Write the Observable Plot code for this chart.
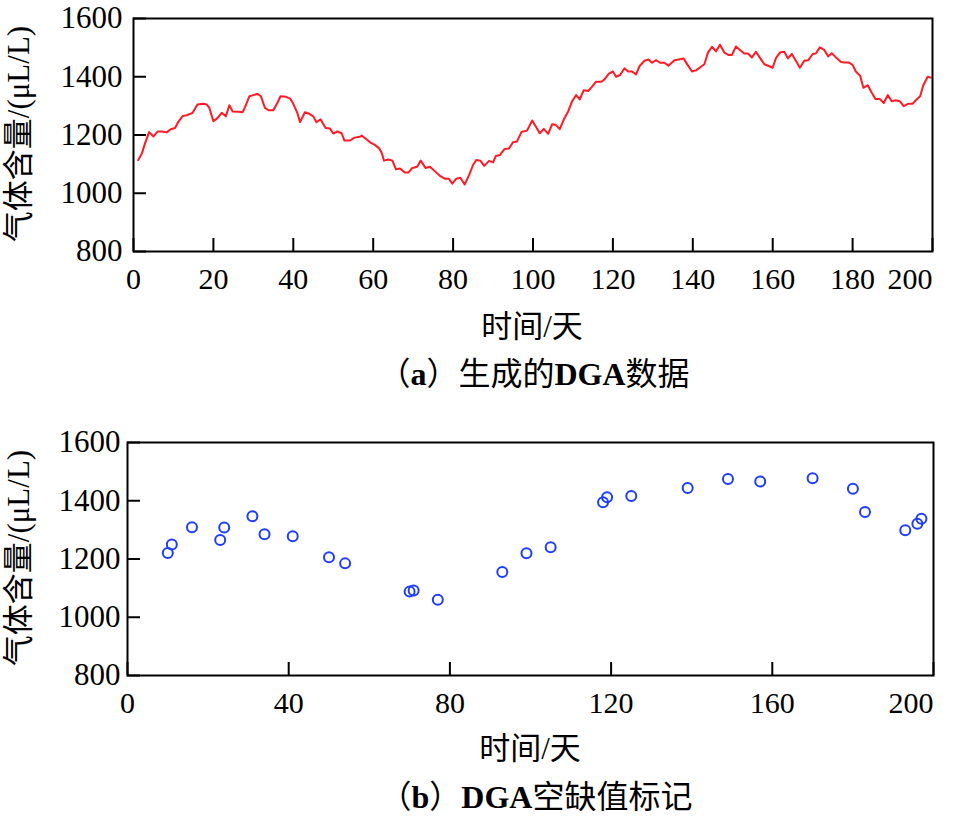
<!DOCTYPE html>
<html>
<head>
<meta charset="utf-8">
<script src="https://cdn.jsdelivr.net/npm/d3@7"></script>
<script src="https://cdn.jsdelivr.net/npm/@observablehq/plot@0.6"></script>
<style>
  html, body { margin: 0; padding: 0; background: #fff; }
  #root { position: relative; width: 959px; height: 816px; overflow: hidden;
          font-family: "Liberation Serif", "Times New Roman", "Noto Sans CJK SC", serif; color: #000; }
  .chart { position: absolute; left: 0; }
  .lbl { position: absolute; white-space: nowrap; line-height: 1; font-size: 31px;
         transform: translate(-50%, -50%); }
  .cap { font-size: 32px; }
  .ylbl { transform: translate(-50%, -50%) rotate(-90deg); }
  .b { font-weight: bold; }
</style>
</head>
<body>
<div id="root">
  <div id="chartA" class="chart" style="top:0px"></div>
  <div id="chartB" class="chart" style="top:420px"></div>
  <div class="lbl ylbl" style="left:18px; top:134px">气体含量/(μL/L)</div>
  <div class="lbl" style="left:532px; top:326px">时间/天</div>
  <div class="lbl cap" style="left:534px; top:374px">（<span class="b">a</span>）生成的<span class="b">DGA</span>数据</div>
  <div class="lbl ylbl" style="left:18px; top:558px">气体含量/(μL/L)</div>
  <div class="lbl" style="left:530px; top:748px">时间/天</div>
  <div class="lbl cap" style="left:536px; top:797px">（<span class="b">b</span>）<span class="b">DGA</span>空缺值标记</div>
</div>
<script>
// ---- data: (a) generated DGA series ----
const genDay = [1.2,2.1,2.9,3.9,5,6,7.1,8.3,9.3,10.4,11.3,12.3,13.3,14.8,16,17.5,18.3,19,20,21,22.1,23.1,24,24.8,26.3,27.3,27.9,29,30,31,31.9,32.9,33.8,35,36,36.8,38.2,39.2,40,
  41,41.7,42.9,43.8,45,45.8,46.8,48.1,49.2,50,51,52.1,52.8,54.2,55.3,56.7,57.1,58.2,59.3,60.4,61.5,62.1,62.7,63.8,64.8,65.7,66.7,67.9,68.8,69.8,71,71.9,73.1,74.2,75.4,76.7,77.9,78.9,79.8,
  80.8,81.8,82.9,84,85,85.8,86.8,87.8,89,90,90.7,91.7,92.9,94,95,96,97.1,98.5,99.8,100.7,101.7,102.7,103.8,104.8,105.7,106.7,107.8,108.8,109.8,110.8,111.7,112.7,113.8,114.8,115.8,117.1,117.9,119,120,
  120.8,121.8,122.9,123.8,124.8,125.8,126.7,127.9,128.9,129.8,130.8,131.8,132.9,133.9,135.4,136.4,137.7,138.5,139.8,140.8,142.1,142.9,143.8,144.8,145.8,146.8,147.9,148.9,149.8,150.8,151.8,152.9,153.8,154.8,155.8,156.9,157.9,159,160,
  160.8,161.8,162.9,163.8,164.8,165.8,166.8,167.9,168.9,170,170.8,171.8,172.9,173.9,174.8,176,177.1,177.9,179,180,180.8,181.9,182.7,183.8,184.8,185.7,186.8,187.8,188.8,189.8,190.8,191.8,192.8,193.9,195,196,196.9,197.7,198.8,199.6];
const genValue = [1114,1137,1172,1210,1195,1212,1212,1209,1220,1224,1247,1265,1268,1276,1305,1307,1305,1293,1247,1258,1276,1264,1302,1281,1280,1278,1295,1333,1337,1341,1333,1293,1285,1285,1310,1333,1331,1325,1307,
  1276,1244,1278,1274,1264,1244,1254,1224,1222,1205,1212,1206,1181,1181,1191,1194,1198,1186,1174,1166,1154,1140,1112,1116,1112,1082,1085,1071,1071,1087,1091,1112,1087,1091,1076,1060,1050,1050,1033,
  1050,1053,1030,1062,1097,1114,1112,1094,1111,1106,1128,1131,1152,1154,1175,1178,1210,1215,1250,1229,1206,1221,1204,1237,1235,1220,1256,1281,1316,1337,1322,1354,1351,1366,1383,1383,1391,1411,1418,
  1400,1406,1429,1418,1418,1408,1437,1455,1459,1448,1457,1448,1448,1438,1457,1459,1463,1445,1418,1422,1435,1443,1483,1503,1487,1510,1483,1475,1475,1504,1492,1480,1480,1466,1486,1463,1443,1437,1431,
  1464,1483,1486,1463,1478,1455,1431,1455,1457,1478,1480,1501,1492,1470,1481,1464,1451,1449,1449,1441,1418,1403,1362,1371,1345,1324,1324,1310,1337,1316,1319,1316,1299,1307,1307,1322,1333,1371,1400,1397];

// ---- data: (b) DGA missing-value markers ----
const missDay = [10,11,16,23,24,31,34,41,50,54,70,71,77,93,99,105,118,119,125,139,149,157,170,180,183,193,196,197];
const missValue = [1221,1250,1309,1265,1308,1347,1285,1278,1206,1185,1088,1092,1060,1155,1220,1240,1395,1412,1416,1444,1475,1466,1477,1441,1361,1299,1321,1338];

// ---- tick labels ----
const xTicksA = [0,20,40,60,80,100,120,140,160,180,200];
const xTicksB = [0,40,80,120,160,200];
const yTicks = [800,1000,1200,1400,1600];

const lineColor = "#ff1a24";
const dotColor = "#1f3dff";

const genData = genDay.map((d, i) => ({day: d, value: genValue[i]}));
const missData = missDay.map((d, i) => ({day: d, value: missValue[i]}));

const fmt = d => String(d);

function makeChart({xTicks, marginLeft, marginRight, marginTop, height, yPad, main}) {
  const inner = xTicks.slice(0, -1);
  const last = xTicks.slice(-1);
  const common = {tickFormat: fmt, tickSize: -13, tickPadding: 29, strokeWidth: 2, label: null, fontSize: 30};
  return Plot.plot({
    width: 959,
    height,
    marginTop,
    marginBottom: height - marginTop - 233,
    marginLeft,
    marginRight,
    style: {fontFamily: "'Liberation Serif', 'Times New Roman', serif", fontSize: "30px", color: "#000", background: "transparent", overflow: "visible"},
    x: {domain: [0, 200]},
    y: {domain: [800, 1600]},
    marks: [
      Plot.axisX({ticks: inner, ...common}),
      Plot.axisX({ticks: last, ...common, textAnchor: "end"}),
      Plot.axisY({ticks: yTicks, tickFormat: fmt, tickSize: -13, tickPadding: yPad, strokeWidth: 2, label: null, fontSize: 31}),
      main,
      Plot.frame({stroke: "#000", strokeWidth: 2})
    ]
  });
}

document.getElementById("chartA").append(makeChart({
  xTicks: xTicksA, marginLeft: 133, marginRight: 27, marginTop: 18, height: 300, yPad: 24,
  main: Plot.line(genData, {x: "day", y: "value", stroke: lineColor, strokeWidth: 2})
}));

document.getElementById("chartB").append(makeChart({
  xTicks: xTicksB, marginLeft: 127, marginRight: 26, marginTop: 22, height: 305, yPad: 20,
  main: Plot.dot(missData, {x: "day", y: "value", r: 5, stroke: dotColor, strokeWidth: 2, fill: "none"})
}));
</script>
</body>
</html>
